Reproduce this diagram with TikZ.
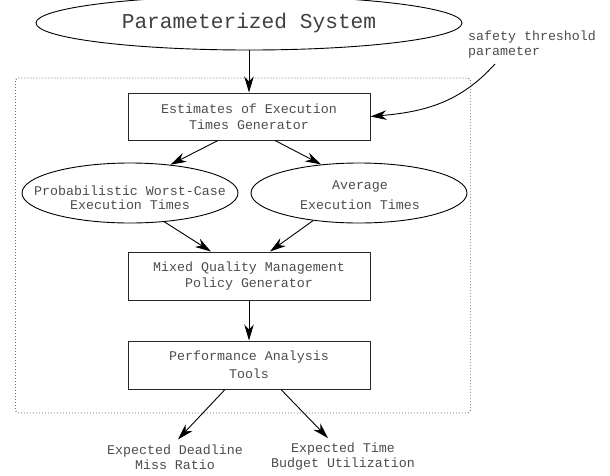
\documentclass[tikz,border=0pt]{standalone}
\usepackage{fontspec}
\newfontfamily\figfont{Liberation Mono}
\usetikzlibrary{arrows.meta,shapes.geometric}
\tikzset{
  txt/.style={font=\figfont\fontsize{13.3}{16}\selectfont, text=black!70, align=center, inner sep=2pt},
  box/.style={txt, draw=black!85, line width=1pt, minimum width=242pt, minimum height=47pt},
  oval/.style={draw, ellipse, line width=0.9pt, inner sep=0pt, minimum width=216pt, minimum height=60pt},
  arr/.style={-{Stealth[length=16pt,width=9.5pt,inset=5pt]}, line width=0.9pt},
}
\begin{document}
\begin{tikzpicture}[x=1pt,y=1pt]
\useasboundingbox (0,0) rectangle (610,-475);
% dotted frame round the tool chain
\draw[black!60, line width=0.9pt, dash pattern=on 0.9pt off 2.1pt, rounded corners=3pt]
  (15.5,-78) rectangle (470.5,-413);
\node[oval, minimum width=426pt, minimum height=54pt, text=black!75,
  font=\figfont\fontsize{21.2}{24}\selectfont] (sys) at (249,-23) {Parameterized System};
\node[box] (est) at (249,-116.5) {Estimates of Execution\\Times Generator};
\node[oval] (pwcet) at (130,-193) {};
\node[txt, font=\figfont\fontsize{13.3}{14}\selectfont] (pwcett) at (130,-198) {Probabilistic Worst-Case\\Execution Times};
\node[oval] (avg) at (359,-193) {};
\node[txt, font=\figfont\fontsize{13.3}{20}\selectfont] (avgt) at (360,-195) {Average\\Execution Times};
\node[box, minimum height=48pt] (mqm) at (249,-276) {Mixed Quality Management\\Policy Generator};
\node[box, minimum height=48pt, font=\figfont\fontsize{13.3}{18}\selectfont] (perf) at (249,-365) {Performance Analysis\\Tools};
\node[txt, font=\figfont\fontsize{13.3}{15}\selectfont, align=left, anchor=west] (thr) at (466,-45) {safety threshold\\parameter};
\node[txt, font=\figfont\fontsize{13.3}{15}\selectfont, inner sep=5pt] (miss) at (175,-457) {Expected Deadline\\Miss Ratio};
\node[txt, font=\figfont\fontsize{13.3}{15}\selectfont, inner sep=5pt] (budg) at (343,-457) {Expected Time\\Budget Utilization};
\coordinate (thrfoot) at (495,-64);
% connectors
\draw[arr] (sys) -- (est);
\draw[arr] ([xshift=-31pt]est.south) -- (pwcet.35);
\draw[arr] ([xshift=26pt]est.south) -- (avg.143);
\draw[arr] (pwcet.-40) -- ([xshift=-38pt]mqm.north);
\draw[arr] (avg.211) -- ([xshift=21pt]mqm.north);
\draw[arr] (mqm) -- (perf);
\draw[arr] ([xshift=-24pt]perf.south) -- ([xshift=3pt]miss.north);
\draw[arr] ([xshift=32pt]perf.south) -- ([xshift=-15pt]budg.north);
\draw[arr] (thrfoot) to[out=-132,in=5] (est.east);
\end{tikzpicture}
\end{document}
